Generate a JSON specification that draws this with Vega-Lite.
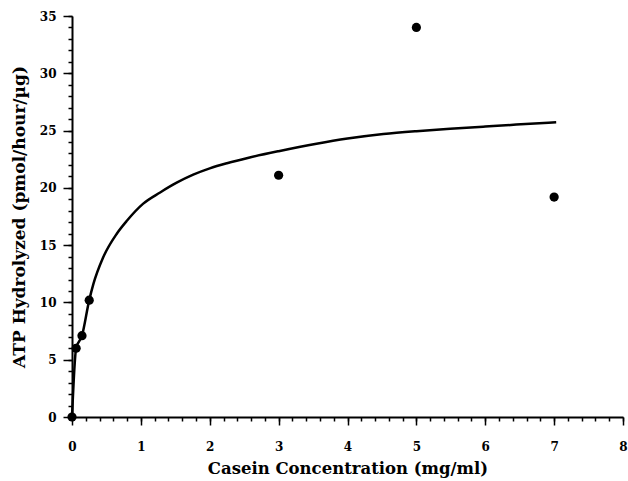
{
  "$schema": "https://vega.github.io/schema/vega-lite/v6.json",
  "autosize": {"type": "none"},
  "padding": {"left": 72, "top": 16, "right": 5, "bottom": 64},
  "width": 551,
  "height": 401,
  "background": "white",
  "config": {
    "view": {"stroke": null},
    "font": "DejaVu Serif",
    "axis": {
      "domainColor": "black",
      "domainWidth": 2,
      "tickColor": "black",
      "tickWidth": 1.5,
      "labelColor": "black",
      "titleColor": "black",
      "labelFont": "DejaVu Serif",
      "titleFont": "DejaVu Serif",
      "labelFontWeight": "bold",
      "titleFontWeight": "bold",
      "labelFontSize": 12,
      "grid": false
    }
  },
  "datasets": {
    "curve": [
      {"conc": 0, "atp": 0},
      {"conc": 0.06, "atp": 6.0},
      {"conc": 0.145, "atp": 7.1},
      {"conc": 0.25, "atp": 10.2},
      {"conc": 0.31, "atp": 11.6},
      {"conc": 0.45, "atp": 13.9},
      {"conc": 0.65, "atp": 16.0},
      {"conc": 0.8, "atp": 17.15},
      {"conc": 1.03, "atp": 18.6},
      {"conc": 1.28, "atp": 19.6},
      {"conc": 1.52, "atp": 20.45},
      {"conc": 1.76, "atp": 21.15},
      {"conc": 2.0, "atp": 21.7},
      {"conc": 2.25, "atp": 22.15},
      {"conc": 2.58, "atp": 22.65},
      {"conc": 3.0, "atp": 23.2},
      {"conc": 3.55, "atp": 23.85},
      {"conc": 4.0, "atp": 24.3},
      {"conc": 4.52, "atp": 24.7},
      {"conc": 5.0, "atp": 24.95},
      {"conc": 5.49, "atp": 25.15},
      {"conc": 6.0, "atp": 25.35},
      {"conc": 6.45, "atp": 25.52},
      {"conc": 7.03, "atp": 25.72}
    ],
    "points": [
      {"conc": 0, "atp": 0},
      {"conc": 0.06, "atp": 6.0},
      {"conc": 0.145, "atp": 7.1},
      {"conc": 0.25, "atp": 10.2},
      {"conc": 3.0, "atp": 21.1},
      {"conc": 5.0, "atp": 34.0},
      {"conc": 7.0, "atp": 19.2}
    ]
  },
  "layer": [
    {
      "data": {"name": "curve"},
      "mark": {"type": "line", "color": "black", "strokeWidth": 2.5, "interpolate": "monotone", "clip": false},
      "encoding": {
        "x": {
          "field": "conc", "type": "quantitative",
          "scale": {"domain": [0, 8], "nice": false, "zero": true},
          "axis": {
            "orient": "bottom",
            "values": [0, 1, 2, 3, 4, 5, 6, 7, 8],
            "tickSize": 8,
            "labelPadding": 16,
            "title": "Casein Concentration (mg/ml)",
            "titleFontSize": 16.5,
            "titlePadding": 8,
            "labelFlush": false
          }
        },
        "y": {
          "field": "atp", "type": "quantitative",
          "scale": {"domain": [0, 35], "nice": false},
          "axis": {
            "orient": "left",
            "values": [0, 5, 10, 15, 20, 25, 30, 35],
            "tickSize": 9,
            "labelPadding": 7,
            "title": "ATP Hydrolyzed (pmol/hour/µg)",
            "titleFontSize": 17,
            "titlePadding": 11,
            "labelFlush": false
          }
        }
      }
    },
    {
      "data": {"name": "points"},
      "mark": {"type": "circle", "color": "black", "size": 85, "opacity": 1, "clip": false},
      "encoding": {
        "x": {
          "field": "conc", "type": "quantitative",
          "scale": {"domain": [0, 8], "nice": false},
          "axis": {
            "orient": "bottom",
            "values": [0, 0.2, 0.4, 0.6, 0.8, 1, 1.2, 1.4, 1.6, 1.8, 2, 2.2, 2.4, 2.6, 2.8, 3, 3.2, 3.4, 3.6, 3.8, 4, 4.2, 4.4, 4.6, 4.8, 5, 5.2, 5.4, 5.6, 5.8, 6, 6.2, 6.4, 6.6, 6.8, 7, 7.2, 7.4, 7.6, 7.8, 8],
            "tickSize": 4,
            "labels": false,
            "domain": false,
            "title": null
          }
        },
        "y": {
          "field": "atp", "type": "quantitative",
          "scale": {"domain": [0, 35], "nice": false},
          "axis": {
            "orient": "left",
            "values": [0, 1, 2, 3, 4, 5, 6, 7, 8, 9, 10, 11, 12, 13, 14, 15, 16, 17, 18, 19, 20, 21, 22, 23, 24, 25, 26, 27, 28, 29, 30, 31, 32, 33, 34, 35],
            "tickSize": 4,
            "labels": false,
            "domain": false,
            "title": null
          }
        }
      }
    }
  ],
  "resolve": {"axis": {"x": "independent", "y": "independent"}}
}
